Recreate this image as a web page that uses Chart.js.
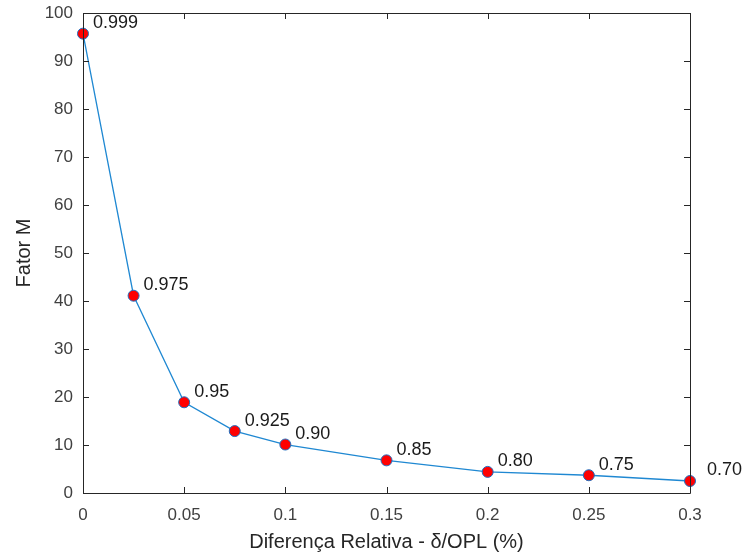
<!DOCTYPE html>
<html>
<head>
<meta charset="utf-8">
<script src="https://cdn.jsdelivr.net/npm/chart.js@4.4.1/dist/chart.umd.min.js"></script>
<style>
html,body{margin:0;padding:0;background:#fff;}
#wrap{width:744px;height:558px;}
</style>
</head>
<body>
<div id="wrap"><canvas id="c" width="744" height="558"></canvas></div>
<script>
const xValues = [0, 0.025, 0.05, 0.075, 0.1, 0.15, 0.2, 0.25, 0.3];
const mValues = [95.7, 41.1, 18.9, 12.9, 10.1, 6.8, 4.4, 3.7, 2.5];
const pointLabels = ['0.999', '0.975', '0.95', '0.925', '0.90', '0.85', '0.80', '0.75', '0.70'];
const xTickValues = [0, 0.05, 0.1, 0.15, 0.2, 0.25, 0.3];
const xTickLabels = ['0', '0.05', '0.1', '0.15', '0.2', '0.25', '0.3'];
const yTickValues = [0, 10, 20, 30, 40, 50, 60, 70, 80, 90, 100];

const AXIS = '#262626';
const FONT = "'Liberation Sans', Arial, Helvetica, sans-serif";

const boxTicks = {
  id: 'boxTicks',
  afterDraw(chart) {
    const {ctx, chartArea: a, scales} = chart;
    const L = 6;
    ctx.save();
    ctx.strokeStyle = AXIS;
    ctx.lineWidth = 1;
    ctx.beginPath();
    ctx.rect(Math.round(a.left) + 0.5, Math.round(a.top) + 0.5, Math.round(a.right - a.left), Math.round(a.bottom - a.top));
    xTickValues.forEach(v => {
      const px = Math.round(scales.x.getPixelForValue(v)) + 0.5;
      ctx.moveTo(px, a.bottom); ctx.lineTo(px, a.bottom - L);
      ctx.moveTo(px, a.top); ctx.lineTo(px, a.top + L);
    });
    yTickValues.forEach(v => {
      const py = Math.round(scales.y.getPixelForValue(v)) + 0.5;
      ctx.moveTo(a.left, py); ctx.lineTo(a.left + L, py);
      ctx.moveTo(a.right, py); ctx.lineTo(a.right - L, py);
    });
    ctx.stroke();
    ctx.restore();
  }
};

const labelPlugin = {
  id: 'pointLabelText',
  afterDatasetsDraw(chart) {
    const {ctx} = chart;
    const meta = chart.getDatasetMeta(0);
    ctx.save();
    ctx.font = '18px ' + FONT;
    ctx.fillStyle = '#1a1a1a';
    ctx.textAlign = 'left';
    ctx.textBaseline = 'middle';
    meta.data.forEach((pt, i) => {
      const dx = (i === meta.data.length - 1) ? 17 : 10;
      ctx.fillText(pointLabels[i], pt.x + dx, pt.y - 10.5);
    });
    ctx.restore();
  }
};

new Chart(document.getElementById('c'), {
  type: 'line',
  data: {
    datasets: [{
      data: xValues.map((x, i) => ({x: x, y: mValues[i]})),
      borderColor: '#1f88d2',
      borderWidth: 1.3,
      backgroundColor: '#ff0000',
      pointBackgroundColor: '#ff0000',
      pointBorderColor: '#1f6fc0',
      pointBorderWidth: 1,
      pointRadius: 5.5,
      tension: 0,
      clip: false
    }]
  },
  options: {
    responsive: false,
    animation: false,
    devicePixelRatio: 1,
    layout: {padding: {left: 0, top: 13, right: 54, bottom: 0}},
    plugins: {legend: {display: false}, tooltip: {enabled: false}},
    scales: {
      x: {
        type: 'linear',
        min: 0, max: 0.3,
        afterFit(s) { s.height = 65; s.paddingLeft = 0; s.paddingRight = 0; },
        afterBuildTicks(s) { s.ticks = xTickValues.map(v => ({value: v})); },
        grid: {display: false, drawTicks: false},
        border: {display: false},
        ticks: {
          color: '#404040', padding: 12, maxRotation: 0,
          font: {size: 17, family: FONT},
          callback: (v) => { const i = xTickValues.indexOf(v); return i >= 0 ? xTickLabels[i] : ''; }
        },
        title: {display: true, text: 'Diferença Relativa - δ/OPL (%)', color: '#262626',
          font: {size: 20, family: FONT}, padding: {top: 0, bottom: 4}}
      },
      y: {
        type: 'linear',
        min: 0, max: 100,
        afterFit(s) { s.width = 83; s.paddingTop = 0; s.paddingBottom = 0; },
        afterBuildTicks(s) { s.ticks = yTickValues.map(v => ({value: v})); },
        grid: {display: false, drawTicks: false},
        border: {display: false},
        ticks: {color: '#404040', padding: 10, font: {size: 17, family: FONT}},
        title: {display: true, text: 'Fator M', color: '#262626',
          font: {size: 20, family: FONT}, padding: {top: 12, bottom: 0}}
      }
    }
  },
  plugins: [boxTicks, labelPlugin]
});
</script>
</body>
</html>
